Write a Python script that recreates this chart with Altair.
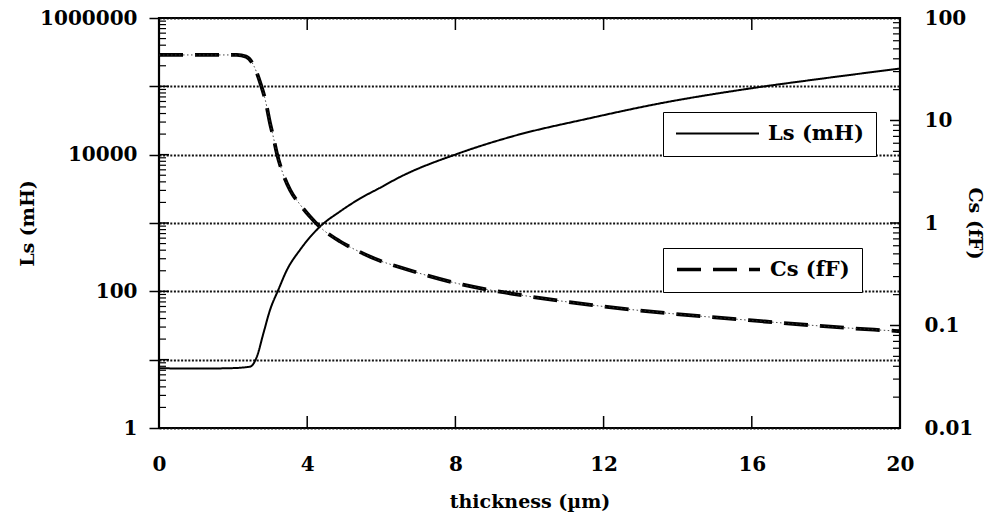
import altair as alt
import pandas as pd

# ---- data ----
thickness_ls = [0, 1.0, 1.92, 2.46, 2.64, 2.82, 3.0, 3.22, 3.45, 3.81, 4.35, 4.89, 5.43,
                5.95, 6.5, 8.1, 9.55, 11.6, 13.5, 15.95, 18.0, 20.0]
ls_mh = [7.5, 7.4, 7.5, 7.9, 11, 24.5, 54, 105, 204, 407, 890, 1480, 2290,
         3240, 4700, 10500, 18600, 33900, 56000, 93000, 132000, 182000]

thickness_cs = [0, 1.0, 2.1, 2.35, 2.55, 2.74, 2.87, 3.0, 3.09, 3.18, 3.31, 3.54, 3.81,
                4.08, 4.35, 4.89, 5.43, 5.95, 6.5, 8.2, 9.55, 11.7, 13.7, 16.0, 19.3, 20.0]
cs_ff = [43.6, 43.6, 43.6, 42, 34.7, 22.9, 15.8, 9.3, 6.8, 4.8, 3.3, 2.09, 1.51,
         1.15, 0.91, 0.66, 0.52, 0.43, 0.37, 0.25, 0.204, 0.158, 0.132, 0.112, 0.091, 0.088]

x_ticks = [0, 4, 8, 12, 16, 20]
x_inner_ticks = [4, 8, 12, 16]
ls_decades = [1, 10, 100, 1000, 10000, 100000, 1000000]
ls_labels = [1, 100, 10000, 1000000]
cs_decades = [0.01, 0.1, 1, 10, 100]

ls_minor = [m * d for d in ls_decades[:-1] for m in range(2, 10)]
cs_minor = [m * d for d in cs_decades[:-1] for m in range(2, 10)]

FONT = "DejaVu Serif"
W, H = 741, 410

df_ls = pd.DataFrame({"thickness": thickness_ls, "Ls": ls_mh, "series": "Ls (mH)"})
df_cs = pd.DataFrame({"thickness": thickness_cs, "Cs": cs_ff, "series": "Cs (fF)"})

x_scale = alt.Scale(domain=[0, 20], nice=False, zero=False)
ls_scale = alt.Scale(type="log", domain=[1, 1000000], nice=False)
cs_scale = alt.Scale(type="log", domain=[0.01, 100], nice=False)

x_axis = alt.Axis(values=x_ticks, title="thickness (µm)", ticks=False, domain=False,
                  grid=False, labelPadding=36, labelBaseline="middle", labelFlush=False,
                  titleY=73, titleBaseline="middle")


def X(field="thickness"):
    return alt.X(f"{field}:Q", scale=x_scale, axis=x_axis, title="thickness (µm)")


label_expr = " || ".join(f"datum.value == {v}" for v in ls_labels)


def legend(y, width):
    return alt.Legend(orient="none", legendX=504, legendY=y, title=None,
                      strokeColor="black", fillColor="white", padding=12,
                      symbolType="stroke", symbolSize=6889,
                      symbolStrokeWidth=width, symbolStrokeColor="black",
                      labelFont=FONT, labelFontSize=21, labelFontWeight="bold",
                      labelColor="black", labelOffset=8, clipHeight=19)


ls_line = alt.Chart(df_ls).mark_line(color="black", strokeWidth=2, interpolate="monotone").encode(
    x=X(),
    y=alt.Y("Ls:Q", scale=ls_scale,
            axis=alt.Axis(orient="left", values=ls_decades, title="Ls (mH)",
                          labelExpr=f"({label_expr}) ? format(datum.value, 'd') : ''",
                          tickSize=10, tickWidth=1.5, tickColor="black", domain=False,
                          grid=True, gridDash=[2, 1.6], gridColor="#111", gridWidth=1.8,
                          labelPadding=12, titleX=-132, titleBaseline="middle", titleAngle=270)),
    strokeDash=alt.StrokeDash("series:N",
                              scale=alt.Scale(domain=["Ls (mH)"], range=[[1, 0]]),
                              legend=legend(94, 2)),
)

cs_line = alt.Chart(df_cs).mark_line(color="black", strokeWidth=3.8, interpolate="monotone").encode(
    x=X(),
    y=alt.Y("Cs:Q", scale=cs_scale,
            axis=alt.Axis(orient="right", values=cs_decades, title="Cs (fF)", format="~g",
                          ticks=False, domain=False, grid=False, labelPadding=24,
                          titleX=74, titleAngle=90, titleBaseline="middle")),
    strokeDash=alt.StrokeDash("series:N",
                              scale=alt.Scale(domain=["Cs (fF)"], range=[[24, 12]]),
                              legend=legend(230, 3.5)),
)

cs_thin = alt.Chart(df_cs).mark_line(color="#333", strokeWidth=0.9, strokeDash=[1.5, 2.5],
                                     interpolate="monotone").encode(
    x=X(), y=alt.Y("Cs:Q", scale=cs_scale, axis=None))

ls_minor_ticks = alt.Chart(pd.DataFrame({"v": ls_minor, "thickness": 0})).mark_rule(
    color="black", strokeWidth=1.2).encode(
    y=alt.Y("v:Q", scale=ls_scale, axis=None), x=alt.value(0), x2=alt.value(7))
ls_major_in = alt.Chart(pd.DataFrame({"v": ls_decades})).mark_rule(color="black", strokeWidth=1.5).encode(
    y=alt.Y("v:Q", scale=ls_scale, axis=None), x=alt.value(0), x2=alt.value(10))
x_bottom_ticks = alt.Chart(pd.DataFrame({"thickness": x_inner_ticks})).mark_rule(
    color="black", strokeWidth=1.5).encode(
    x=X(), y=alt.value(H), y2=alt.value(H - 12))
x_top_ticks = alt.Chart(pd.DataFrame({"thickness": x_inner_ticks})).mark_rule(
    color="black", strokeWidth=1.5).encode(
    x=X(), y=alt.value(0), y2=alt.value(12))

cs_minor_ticks = alt.Chart(pd.DataFrame({"v": cs_minor})).mark_rule(color="black", strokeWidth=1.2).encode(
    y=alt.Y("v:Q", scale=cs_scale, axis=None), x=alt.value(W - 7), x2=alt.value(W))
cs_major_in = alt.Chart(pd.DataFrame({"v": cs_decades})).mark_rule(color="black", strokeWidth=1.5).encode(
    y=alt.Y("v:Q", scale=cs_scale, axis=None), x=alt.value(W - 10), x2=alt.value(W))

chart = alt.layer(
    ls_line, cs_line, cs_thin, ls_minor_ticks, ls_major_in, x_bottom_ticks, x_top_ticks,
    cs_minor_ticks, cs_major_in,
).resolve_scale(
    y="independent", strokeDash="independent"
).resolve_legend(strokeDash="independent").properties(
    width=W, height=H,
    autosize=alt.AutoSizeParams(type="none"),
    padding={"left": 159, "top": 18, "right": 97, "bottom": 88},
    background="white",
).configure_view(
    stroke="black", strokeWidth=2.2
).configure_axis(
    labelFont=FONT, labelFontSize=20, labelFontWeight="bold", labelColor="black",
    titleFont=FONT, titleFontSize=19, titleFontWeight="bold", titleColor="black",
    labelOverlap=False,
)

chart.save("out.html", embed_options={"renderer": "svg", "actions": False})
